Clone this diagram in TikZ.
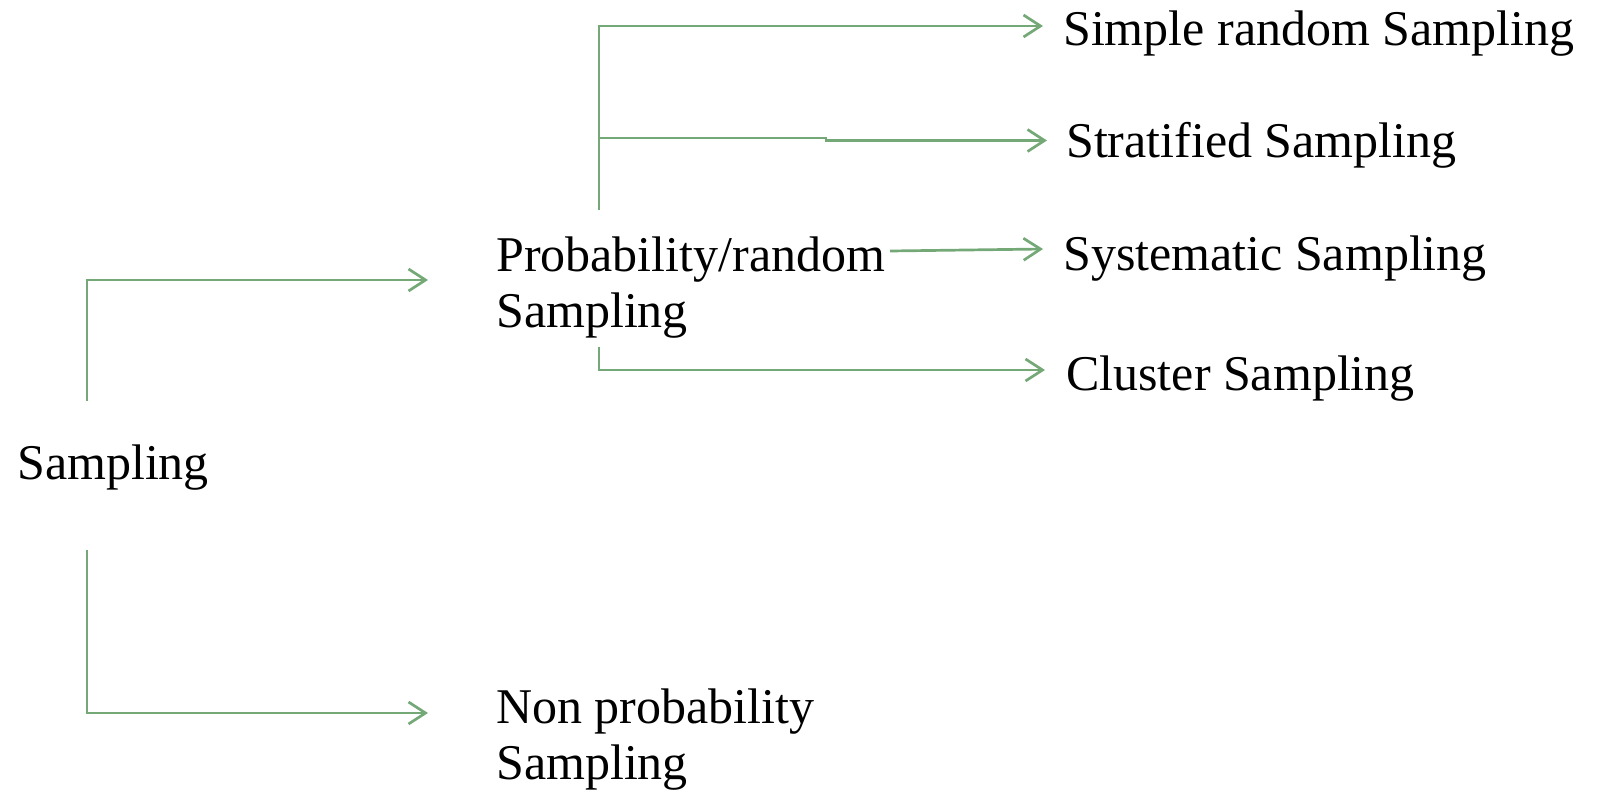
\documentclass[tikz,border=0pt]{standalone}
\usepackage{fontspec}
\setmainfont{Liberation Serif}
\usetikzlibrary{arrows.meta}
\definecolor{branch}{RGB}{116,168,118}
\tikzset{
  conn/.style={draw=branch, line width=2.7pt,
    -{Straight Barb[length=17pt,width=22pt,line width=2.7pt]}},
  label/.style={anchor=base west, inner sep=0pt,
    font=\fontsize{50}{56}\selectfont, align=left},
}
\begin{document}
\begin{tikzpicture}[x=1pt,y=-1pt]
\useasboundingbox (0,0) rectangle (1611,792);

% labels (two-line labels are anchored on the baseline of their last line)
\node[label] (root)   at (17,479)  {Sampling};
\node[label] (prob)   at (496,327) {Probability/random\\Sampling};
\node[label] (nonp)   at (496,779) {Non probability\\Sampling};
\node[label] (simple) at (1063,46) {Simple random Sampling};
\node[label] (strat)  at (1066,157) {Stratified Sampling};
\node[label] (syst)   at (1063,270) {Systematic Sampling};
\node[label] (clus)   at (1066,390) {Cluster Sampling};

% connector ends
\coordinate (rootUp)     at (87,401);
\coordinate (probIn)     at (428,280);
\coordinate (rootDown)   at (87,550);
\coordinate (nonIn)      at (428,713);
\coordinate (probTop)    at (599,210);
\coordinate (simpleIn)   at (1043,26);
\coordinate (stratFork)  at (599,138);
\coordinate (stratStep)  at (826,138);
\coordinate (stratIn)    at (1047,140.5);
\coordinate (systOut)    at (890,251);
\coordinate (systIn)     at (1043,249);
\coordinate (probBottom) at (599,347);
\coordinate (clusIn)     at (1045,370);

% connectors
\draw[conn] (rootUp) |- (probIn);
\draw[conn] (rootDown) |- (nonIn);
\draw[conn] (probTop) |- (simpleIn);
\draw[conn] (stratFork) -- (stratStep) -- (stratStep |- stratIn) -- (stratIn);
\draw[conn] (systOut) -- (systIn);
\draw[conn] (probBottom) |- (clusIn);
\end{tikzpicture}
\end{document}
